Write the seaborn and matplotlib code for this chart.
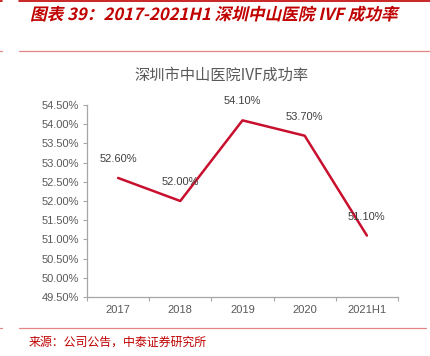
import numpy as np
import pandas as pd
import matplotlib
matplotlib.use("Agg")
import matplotlib.pyplot as plt
import matplotlib.transforms as mtransforms
from matplotlib.lines import Line2D
from matplotlib.textpath import TextPath
from matplotlib.patches import PathPatch
from matplotlib.font_manager import FontProperties
import seaborn as sns

# ---------------- DATA ----------------
years = ['2017', '2018', '2019', '2020', '2021H1']
ivf_rate = [52.6, 52.0, 54.1, 53.7, 51.1]
y_ticks = [49.5, 50.0, 50.5, 51.0, 51.5, 52.0, 52.5, 53.0, 53.5, 54.0, 54.5]

header = '图表 39：2017-2021H1 深圳中山医院 IVF 成功率'
chart_title = '深圳市中山医院IVF成功率'
source = '来源：公司公告，中泰证券研究所'

RED = '#C00000'
LINE_RED = '#C8102E'
PALE_RED = '#E38585'
GREY = '#595959'

sns.set_style('white')
plt.rcParams['font.family'] = ['Liberation Sans', 'Noto Sans CJK SC', 'DejaVu Sans']

W, H = 431, 356
fig = plt.figure(figsize=(W / 100, H / 100), dpi=100)
ax = fig.add_axes([87 / W, 1 - 297 / H, (398 - 87) / W, (297 - 105) / H])

df = pd.DataFrame({'year': years, 'rate': ivf_rate})
sns.lineplot(data=df, x='year', y='rate', ax=ax, color=LINE_RED, linewidth=1.8,
             sort=False)

# ---------------- AXES ----------------
ax.set_xlim(-0.5, len(years) - 0.5)
ax.set_ylim(49.5, 54.5)
ax.set_yticks(y_ticks)
ax.set_yticklabels([f'{v:.2f}%' for v in y_ticks])
ax.set_xticks(range(len(years)))
ax.set_xticklabels(years)
ax.set_xticks(np.arange(-0.5, len(years)), minor=True)
ax.tick_params(axis='x', which='major', length=0, pad=6, labelsize=8, labelcolor=GREY)
ax.tick_params(axis='x', which='minor', length=3, width=0.8, color='#A6A6A6', direction='out')
ax.tick_params(axis='y', length=3, width=0.8, color='#A6A6A6', pad=3, labelsize=8,
               labelcolor=GREY, direction='out')
ax.xaxis.set_ticks_position('bottom')
ax.yaxis.set_ticks_position('left')
for s in ['top', 'right']:
    ax.spines[s].set_visible(False)
for s in ['left', 'bottom']:
    ax.spines[s].set_color('#A6A6A6')
    ax.spines[s].set_linewidth(0.9)
ax.set_xlabel('')
ax.set_ylabel('')
ax.grid(False)

# data labels
for i, v in enumerate(ivf_rate):
    ax.annotate(f'{v:.2f}%', (i, v), xytext=(0, 13.7), textcoords='offset points',
                ha='center', va='center', fontsize=8, color='#404040')

# ---------------- TEXTS AND RULES ----------------
fig.text(222 / W, 1 - 75 / H, chart_title, ha='center', va='center', fontsize=11,
         color=GREY, family=['Noto Sans CJK SC', 'DejaVu Sans'])

fig.text(29 / W, 1 - 342 / H, source, ha='left', va='center', fontsize=8.6,
         color=RED, family=['Noto Sans CJK SC', 'DejaVu Sans'])

# italic bold header, skewed by hand because the CJK font has no italic
fp = FontProperties(family='Noto Sans CJK SC', weight='bold')
tp = TextPath((0, 0), header, size=12, prop=fp)
tr = mtransforms.Affine2D().skew_deg(13, 0).scale(fig.dpi / 72).translate(30, H - 20)
fig.add_artist(PathPatch(tp, transform=tr, fc=RED, ec='none'))

def hline(x0, x1, y, color, lw):
    fig.add_artist(Line2D([x0 / W, x1 / W], [1 - y / H, 1 - y / H],
                          transform=fig.transFigure, color=color, linewidth=lw))

hline(19, 431, 0.6, RED, 1.2)
hline(19, 431, 51, PALE_RED, 0.9)
hline(19, 426, 328, PALE_RED, 0.9)
hline(0, 2, 0.6, RED, 1.2)
hline(0, 2, 51, PALE_RED, 0.9)
hline(0, 2, 328, PALE_RED, 0.9)

fig.savefig('out.png', dpi=100)
